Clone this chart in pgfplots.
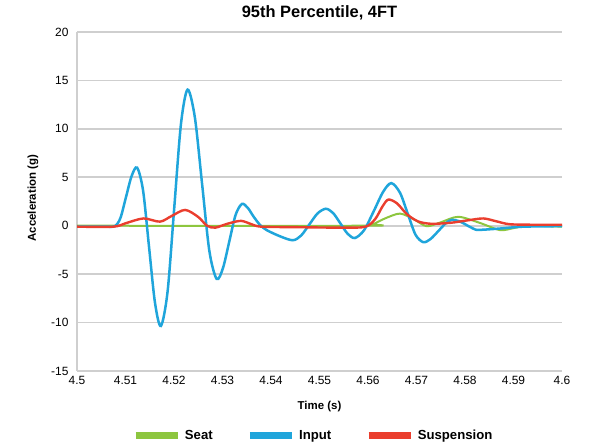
\documentclass[border=0pt]{standalone}
\usepackage{fontspec}
\setmainfont{Liberation Sans}
\usepackage{pgfplots}
\usepackage{pgfplotstable}
\pgfplotsset{compat=1.18}

\definecolor{seatgreen}{HTML}{8DC63F}
\definecolor{inputblue}{HTML}{1FA5DB}
\definecolor{suspred}{HTML}{EA3E2E}
\definecolor{gridgray}{HTML}{CFCFCF}

\pgfplotstableread{
t v
4.5000 0
4.5590 0
4.5610 0.15
4.5635 0.75
4.5666 1.25
4.5695 0.65
4.5721 -0.05
4.5750 0.35
4.5786 0.92
4.5830 0.3
4.5872 -0.45
4.5900 -0.25
4.5930 0
4.6000 -0.1
}\seat

\pgfplotstableread{
t v
4.5000 -0.1
4.5060 -0.1
4.5078 -0.05
4.50895 0.79
4.5101 2.95
4.51125 5.11
4.5124 6.0
4.51363 3.61
4.51485 -2.175
4.51608 -7.955
4.5173 -10.35
4.51868 -6.78
4.52005 1.85
4.52143 10.48
4.5228 14.05
4.5243 11.19
4.5258 4.275
4.5273 -2.64
4.5288 -5.5
4.5301 -4.365
4.5314 -1.625
4.5327 1.115
4.5340 2.25
4.5352 1.85
4.5364 0.95
4.5377 0.1
4.5391 -0.45
4.5419 -1.1
4.5445 -1.5
4.5462 -1.02
4.5479 0.125
4.5496 1.27
4.5513 1.75
4.5528 1.31
4.5543 0.24
4.5558 -0.83
4.5573 -1.27
4.5592 -0.455
4.5612 1.515
4.5631 3.48
4.5648 4.4
4.5666 3.40
4.5682 1.235
4.5698 -0.93
4.5714 -1.7
4.5729 -1.37
4.5745 -0.55
4.5760 0.24
4.5772 0.6
4.5789 0.45
4.5803 0.075
4.5817 -0.30
4.5828 -0.43
4.5870 -0.3
4.5920 -0.1
4.6000 -0.05
}\input

\pgfplotstableread{
t v
4.5000 -0.1
4.5075 -0.1
4.5100 0.25
4.5137 0.75
4.5171 0.42
4.5195 1.0
4.5223 1.63
4.5250 0.9
4.5268 0.0
4.5285 -0.2
4.5310 0.2
4.5338 0.5
4.5360 0.15
4.5380 -0.1
4.5450 -0.15
4.5550 -0.2
4.5595 -0.1
4.5615 0.7
4.5630 2.0
4.5642 2.7
4.5660 2.3
4.5680 1.2
4.5703 0.45
4.5730 0.2
4.5770 0.3
4.5805 0.55
4.5838 0.75
4.5865 0.45
4.5893 0.15
4.5950 0.1
4.6000 0.1
}\susp

\begin{document}
\begin{tikzpicture}
\path[use as bounding box] (0,0) rectangle (600bp,445bp);
\begin{axis}[
  at={(77bp,74bp)}, anchor=south west,
  scale only axis, width=485bp, height=339bp,
  xmin=4.5, xmax=4.6, ymin=-15, ymax=20,
  xtick={4.5,4.51,4.52,4.53,4.54,4.55,4.56,4.57,4.58,4.59,4.6},
  xticklabels={4.5,4.51,4.52,4.53,4.54,4.55,4.56,4.57,4.58,4.59,4.6},
  ytick={-15,-10,-5,0,5,10,15,20},
  /pgf/number format/assume math mode=true,
  major tick length=0pt,
  ymajorgrids, grid style={draw=gridgray, line width=1.6bp},
  separate axis lines,
  axis x line*=bottom, axis y line*=left,
  x axis line style={-, draw=gridgray, line width=1.6bp},
  y axis line style={-, draw=gridgray, line width=2.6bp},
  tick label style={font=\fontsize{12}{13}\selectfont},
  yticklabel style={xshift=-5bp},
  xticklabel style={yshift=-2bp},
  title={95th Percentile, 4FT},
  title style={font=\bfseries\fontsize{16.5}{18}\selectfont, at={(axis description cs:0.5,1.04)}, anchor=center},
  xlabel={Time (s)},
  xlabel style={font=\bfseries\fontsize{11.5}{13}\selectfont, at={(axis description cs:0.5,-0.106)}, anchor=center},
  ylabel={Acceleration (g)},
  ylabel style={font=\bfseries\fontsize{11.5}{13}\selectfont, at={(axis description cs:-0.091,0.51)}, anchor=center},
  legend columns=-1,
  legend image code/.code={\draw[#1, line width=6.5bp] (0bp,0bp) -- (42bp,0bp);},
  legend style={at={(0.4874,-0.19)}, anchor=center, draw=none, fill=none,
    font=\bfseries\fontsize{13.2}{15}\selectfont,
    /tikz/every odd column/.append style={column sep=2bp},
    /tikz/every even column/.append style={column sep=32bp}},
]
\addplot[seatgreen, line width=2bp, smooth] table[x=t, y=v] {\seat};
\addlegendentry{Seat}
\addplot[inputblue, line width=2.5bp, smooth] table[x=t, y=v] {\input};
\addlegendentry{Input}
\addplot[suspred, line width=2.4bp, smooth] table[x=t, y=v] {\susp};
\addlegendentry{Suspension}
\end{axis}
\end{tikzpicture}
\end{document}
